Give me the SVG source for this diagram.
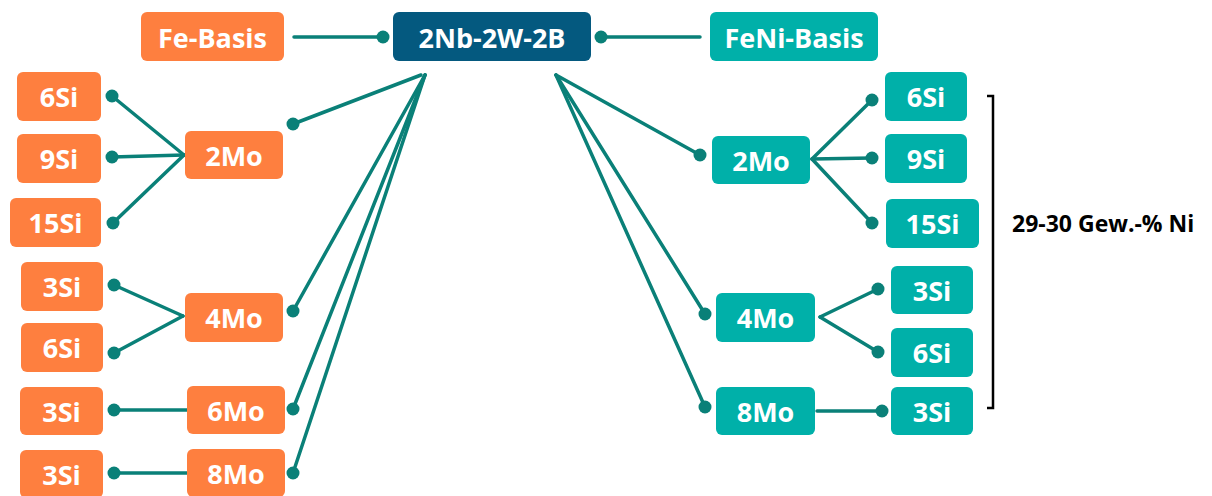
<svg xmlns="http://www.w3.org/2000/svg" width="1212" height="496" viewBox="0 0 1212 496">
<style>
.o{fill:#FE7F3F}
.b{fill:#04597F}
.t{fill:#00B0A9}
.lbl{font-family:"Open Sans","Liberation Sans",sans-serif;font-weight:bold;font-size:27px;fill:#fff;text-anchor:middle;dominant-baseline:central}
.c line{stroke:#0A8078;stroke-width:3.5;stroke-linecap:round}
.c circle{fill:#0A8078}
.note{font-family:"Open Sans","Liberation Sans",sans-serif;font-weight:bold;font-size:23px;fill:#000}
</style>
<rect width="1212" height="496" fill="#fff"/>
<g id="connectors" class="c">
<line x1="294" y1="37" x2="383" y2="37"/><circle cx="383" cy="37" r="6.5"/>
<line x1="601" y1="37" x2="700" y2="37"/><circle cx="601" cy="37" r="6.5"/>
<line x1="421" y1="75" x2="293" y2="124"/><circle cx="293" cy="124" r="6.5"/>
<line x1="425" y1="75" x2="293" y2="311"/><circle cx="293" cy="311" r="6.5"/>
<line x1="425" y1="75" x2="293" y2="409"/><circle cx="293" cy="409" r="6.5"/>
<line x1="425" y1="75" x2="293" y2="473"/><circle cx="293" cy="473" r="6.5"/>
<line x1="556" y1="75" x2="700" y2="155"/><circle cx="700" cy="155" r="6.5"/>
<line x1="556" y1="75" x2="705" y2="314"/><circle cx="705" cy="314" r="6.5"/>
<line x1="556" y1="75" x2="705" y2="407"/><circle cx="705" cy="407" r="6.5"/>
<line x1="184" y1="155" x2="112" y2="96"/><circle cx="112" cy="96" r="6.5"/>
<line x1="184" y1="155" x2="112" y2="157"/><circle cx="112" cy="157" r="6.5"/>
<line x1="184" y1="155" x2="113" y2="223"/><circle cx="113" cy="223" r="6.5"/>
<line x1="183" y1="316" x2="114" y2="285"/><circle cx="114" cy="285" r="6.5"/>
<line x1="183" y1="316" x2="114" y2="353"/><circle cx="114" cy="353" r="6.5"/>
<line x1="187" y1="410" x2="114" y2="410"/><circle cx="114" cy="410" r="6.5"/>
<line x1="187" y1="473" x2="114" y2="473"/><circle cx="114" cy="473" r="6.5"/>
<line x1="812" y1="159" x2="872" y2="100"/><circle cx="872" cy="100" r="6.5"/>
<line x1="812" y1="159" x2="872" y2="158"/><circle cx="872" cy="158" r="6.5"/>
<line x1="812" y1="159" x2="872" y2="223"/><circle cx="872" cy="223" r="6.5"/>
<line x1="820" y1="317" x2="878" y2="289"/><circle cx="878" cy="289" r="6.5"/>
<line x1="820" y1="317" x2="878" y2="352"/><circle cx="878" cy="352" r="6.5"/>
<line x1="817" y1="411" x2="882" y2="411"/><circle cx="882" cy="411" r="6.5"/>
</g>
<g id="fe-basis"><rect class="o" x="141" y="12" width="143" height="49" rx="6"/><text class="lbl" x="212.5" y="37">Fe-Basis</text></g>
<g id="root"><rect class="b" x="393" y="12" width="198" height="49" rx="6"/><text class="lbl" x="492" y="37">2Nb-2W-2B</text></g>
<g id="feni-basis"><rect class="t" x="710" y="12" width="168" height="49" rx="6"/><text class="lbl" x="794" y="37">FeNi-Basis</text></g>
<g id="l-2mo"><rect class="o" x="185" y="131" width="98" height="48" rx="6"/><text class="lbl" x="234" y="155">2Mo</text></g>
<g id="l-6si-a"><rect class="o" x="17" y="72" width="84" height="49" rx="6"/><text class="lbl" x="59" y="96.5">6Si</text></g>
<g id="l-9si"><rect class="o" x="17" y="134" width="84" height="49" rx="6"/><text class="lbl" x="59" y="158.5">9Si</text></g>
<g id="l-15si"><rect class="o" x="10" y="198" width="91" height="49" rx="6"/><text class="lbl" x="55.5" y="222.5">15Si</text></g>
<g id="l-4mo"><rect class="o" x="185" y="293" width="98" height="49" rx="6"/><text class="lbl" x="234" y="317.5">4Mo</text></g>
<g id="l-3si-a"><rect class="o" x="21" y="262" width="82" height="49" rx="6"/><text class="lbl" x="62" y="286.5">3Si</text></g>
<g id="l-6si-b"><rect class="o" x="21" y="323" width="82" height="49" rx="6"/><text class="lbl" x="62" y="347.5">6Si</text></g>
<g id="l-6mo"><rect class="o" x="187" y="386" width="98" height="48" rx="6"/><text class="lbl" x="236" y="410">6Mo</text></g>
<g id="l-3si-b"><rect class="o" x="20" y="387" width="83" height="48" rx="6"/><text class="lbl" x="61.5" y="411">3Si</text></g>
<g id="l-8mo"><rect class="o" x="187" y="449" width="98" height="48" rx="6"/><text class="lbl" x="236" y="473">8Mo</text></g>
<g id="l-3si-c"><rect class="o" x="20" y="450" width="83" height="48" rx="6"/><text class="lbl" x="61.5" y="474">3Si</text></g>
<g id="r-2mo"><rect class="t" x="712" y="136" width="98" height="48" rx="6"/><text class="lbl" x="761" y="160">2Mo</text></g>
<g id="r-6si-a"><rect class="t" x="885" y="72" width="82" height="49" rx="6"/><text class="lbl" x="926" y="96.5">6Si</text></g>
<g id="r-9si"><rect class="t" x="885" y="134" width="82" height="49" rx="6"/><text class="lbl" x="926" y="158.5">9Si</text></g>
<g id="r-15si"><rect class="t" x="886" y="199" width="93" height="49" rx="6"/><text class="lbl" x="932.5" y="223.5">15Si</text></g>
<g id="r-4mo"><rect class="t" x="716" y="293" width="99" height="49" rx="6"/><text class="lbl" x="765.5" y="317.5">4Mo</text></g>
<g id="r-3si-a"><rect class="t" x="891" y="266" width="82" height="48" rx="6"/><text class="lbl" x="932" y="290">3Si</text></g>
<g id="r-6si-b"><rect class="t" x="891" y="328" width="82" height="49" rx="6"/><text class="lbl" x="932" y="352.5">6Si</text></g>
<g id="r-8mo"><rect class="t" x="716" y="387" width="99" height="48" rx="6"/><text class="lbl" x="765.5" y="411">8Mo</text></g>
<g id="r-3si-b"><rect class="t" x="891" y="387" width="82" height="48" rx="6"/><text class="lbl" x="932" y="411">3Si</text></g>
<g id="bracket"><path d="M987 96 H993 V408 H987" fill="none" stroke="#000" stroke-width="2.5"/><text class="note" x="1012" y="232">29-30 Gew.-% Ni</text></g>
</svg>
